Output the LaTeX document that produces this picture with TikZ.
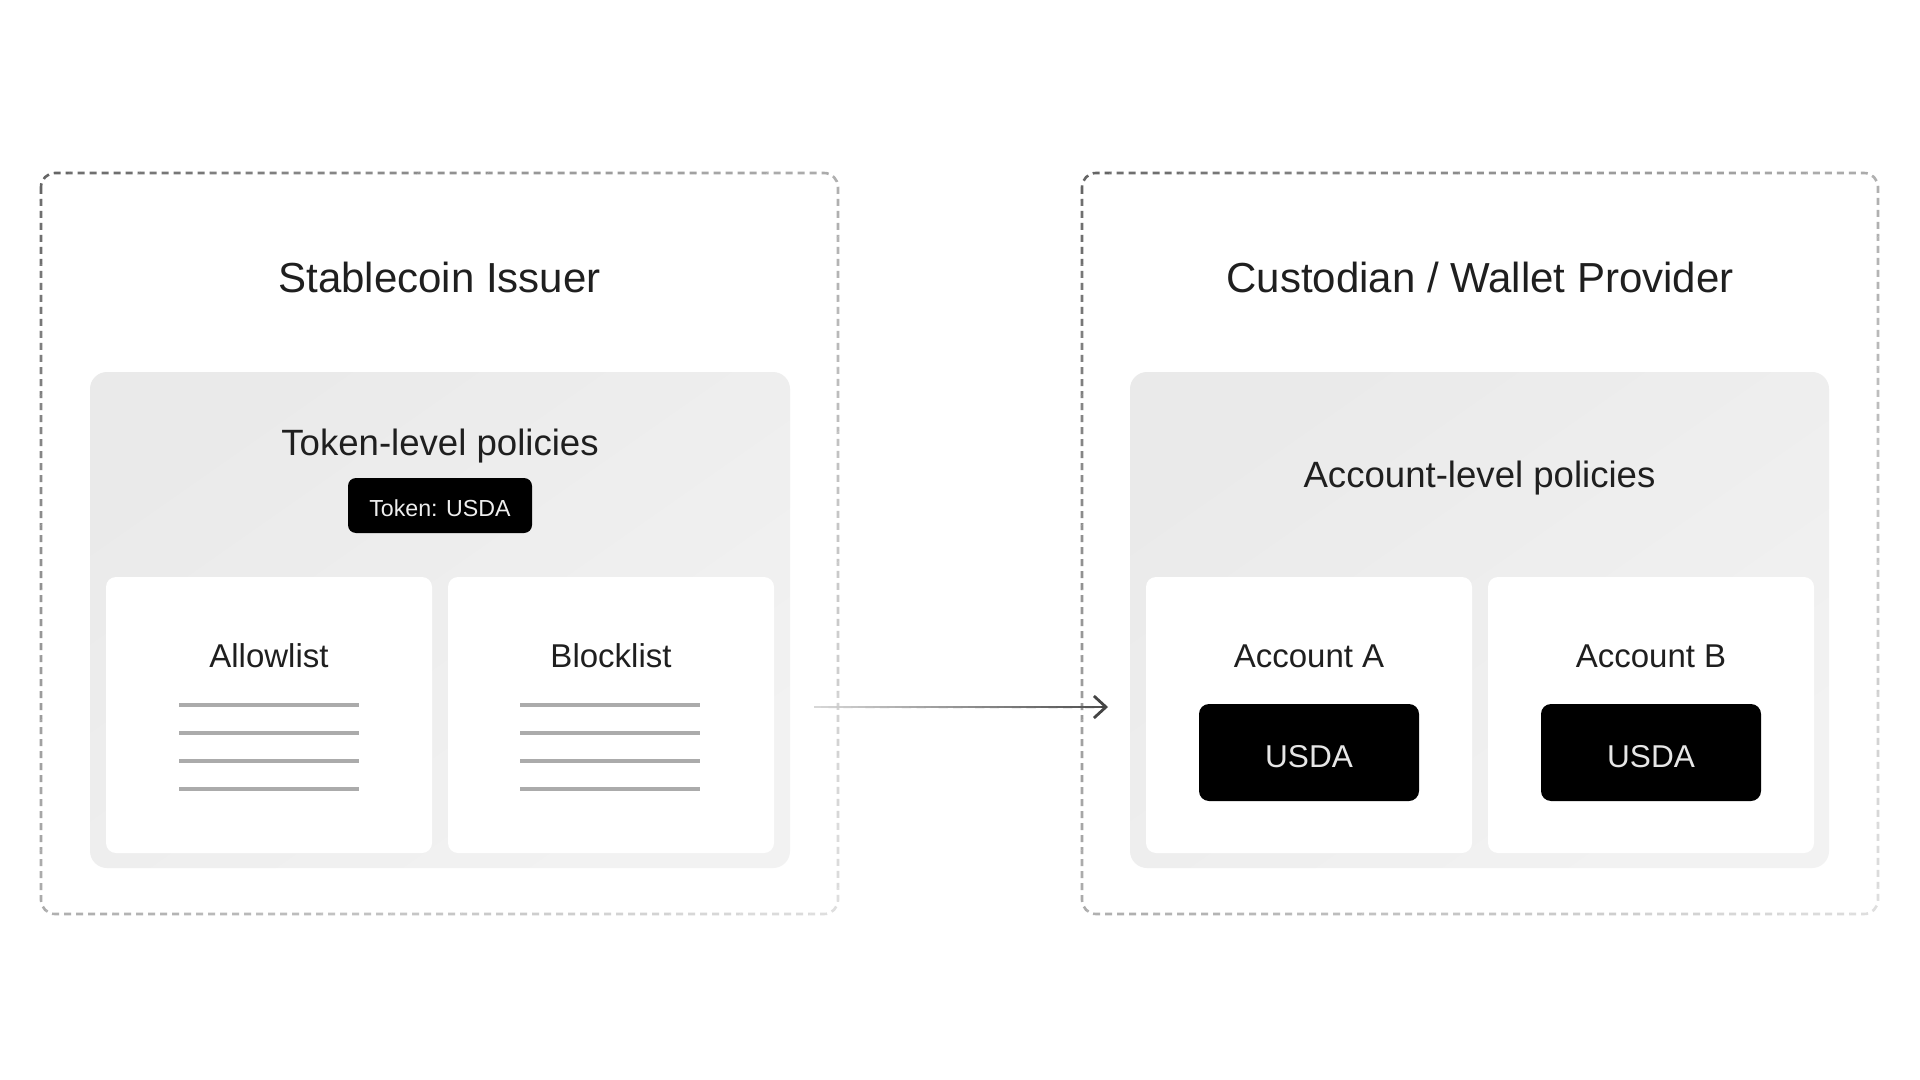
\documentclass[tikz,border=0pt]{standalone}
\usepackage{fontspec}
\setmainfont{Liberation Sans}
\usetikzlibrary{arrows.meta,calc}
\definecolor{txt}{HTML}{1F1F1F}
\definecolor{panelTop}{HTML}{EAEAEA}
\definecolor{panelBot}{HTML}{F2F2F2}
\definecolor{lineGray}{HTML}{ABABAB}
\definecolor{badgeText}{HTML}{EEEEEE}
\definecolor{usdaText}{HTML}{E6E6E6}
\definecolor{arrowDark}{HTML}{444444}
\newcommand{\gborder}[5]{%
  \foreach \i in {0,...,23}{%
    \pgfmathsetmacro{\sa}{2*\i/24}%
    \pgfmathsetmacro{\sb}{2*(\i+1)/24}%
    \pgfmathsetmacro{\gv}{0.36+0.52*((\i+0.5)/24)^0.7}%
    \definecolor{bc}{gray}{\gv}%
    \begin{scope}
      \clip ({#2+\sa*#4},#3) -- ({#2+\sb*#4},#3) -- (#2,{#3+\sb*#5}) -- (#2,{#3+\sa*#5}) -- cycle;
      \draw[dashbdr, draw=bc] (#1.north west) rectangle (#1.south east);
    \end{scope}
  }%
}
\begin{document}
\begin{tikzpicture}[x=0.5pt,y=-0.5pt,
  box/.style={inner sep=0pt, outer sep=0pt, anchor=north west},
  frame/.style={box, minimum width=398.5pt, minimum height=370.5pt},
  panel/.style={box, rounded corners=8.5pt, top color=panelTop, bottom color=panelBot, shading angle=35, minimum width=350pt, minimum height=248pt},
  card/.style={box, fill=white, rounded corners=5pt, minimum width=163pt, minimum height=138pt},
  badge/.style={fill=black, rounded corners=4pt, inner sep=0pt, minimum width=92pt, minimum height=27.5pt, text=badgeText, font=\fontsize{11.6pt}{14pt}\selectfont, text height=10.5pt, text depth=0pt},
  usda/.style={fill=black, rounded corners=5pt, inner sep=0pt, minimum width=110pt, minimum height=48.5pt, text=usdaText, font=\fontsize{15.8pt}{19pt}\selectfont, text height=14.5pt, text depth=0pt},
  titletext/.style={anchor=base, inner sep=0pt, text=txt, font=\fontsize{21pt}{25pt}\selectfont},
  subtext/.style={anchor=base, inner sep=0pt, text=txt, font=\fontsize{18.3pt}{22pt}\selectfont},
  cardtext/.style={anchor=base, inner sep=0pt, text=txt, font=\fontsize{16.5pt}{20pt}\selectfont},
  listline/.style={draw=lineGray, line width=2pt},
  dashbdr/.style={line width=1.3pt, dash pattern=on 3.5pt off 2.5pt, rounded corners=7pt},
  arrowseg/.style={line width=1pt, line cap=rect}
]
\fill[white] (0,0) rectangle (1920,1080);
\useasboundingbox (0,0) rectangle (1920,1080);

% outer dashed frames
\node[frame] (issuer) at (41,173) {};
\node[frame, minimum width=398pt] (custodian) at (1082,173) {};
\gborder{issuer}{21}{153}{837}{781}
\gborder{custodian}{1062}{153}{836}{781}

% titles
\node[titletext] (issuerTitle) at (439.5,293) {Stablecoin Issuer};
\node[titletext] (custTitle) at (1480,293) {Custodian / Wallet Provider};

% grey panels
\node[panel] (tokpanel) at (90,372) {};
\node[panel, minimum width=349.5pt] (accpanel) at (1130,372) {};

\node[subtext] (tokTitle) at (440,455) {Token-level policies};
\node[badge] (tokBadge) at (440,505.5) {Token: USDA};
\node[subtext] (accTitle) at (1479.5,487) {Account-level policies};

% cards
\node[card] (allow) at (106,577) {};
\node[card] (block) at (448,577) {};
\node[card] (accA) at (1146,577) {};
\node[card] (accB) at (1488,577) {};

\node[cardtext] (allowLbl) at (269,667) {Allowlist};
\node[cardtext] (blockLbl) at (611,667) {Blocklist};
\node[cardtext] (accALbl) at (1309,667) {Account A};
\node[cardtext] (accBLbl) at (1651,667) {Account B};

% list lines
\foreach \yy in {705,733,761,789}{
  \draw[listline] (179,\yy) -- (359,\yy);
  \draw[listline] (520,\yy) -- (700,\yy);
}

% USDA badges
\node[usda] (usdaA) at (1309,752.5) {USDA};
\node[usda] (usdaB) at (1651,752.5) {USDA};

% arrow
\coordinate (aS) at (815,707);
\coordinate (aE) at (1108,707);
\foreach \i in {0,...,38}{%
  \pgfmathsetmacro{\fa}{\i/40}%
  \pgfmathsetmacro{\fb}{(\i+1)/40}%
  \pgfmathsetmacro{\gv}{0.85-0.55*(\i+0.5)/40}%
  \definecolor{ac}{gray}{\gv}%
  \draw[arrowseg, draw=ac] ($(aS)!\fa!(aE)$) -- ($(aS)!\fb!(aE)$);
}
\draw[line width=1pt, draw=arrowDark, -{Straight Barb[length=6pt,width=11pt,line width=1.4pt]}] ($(aS)!0.975!(aE)$) -- (aE);
\end{tikzpicture}
\end{document}
